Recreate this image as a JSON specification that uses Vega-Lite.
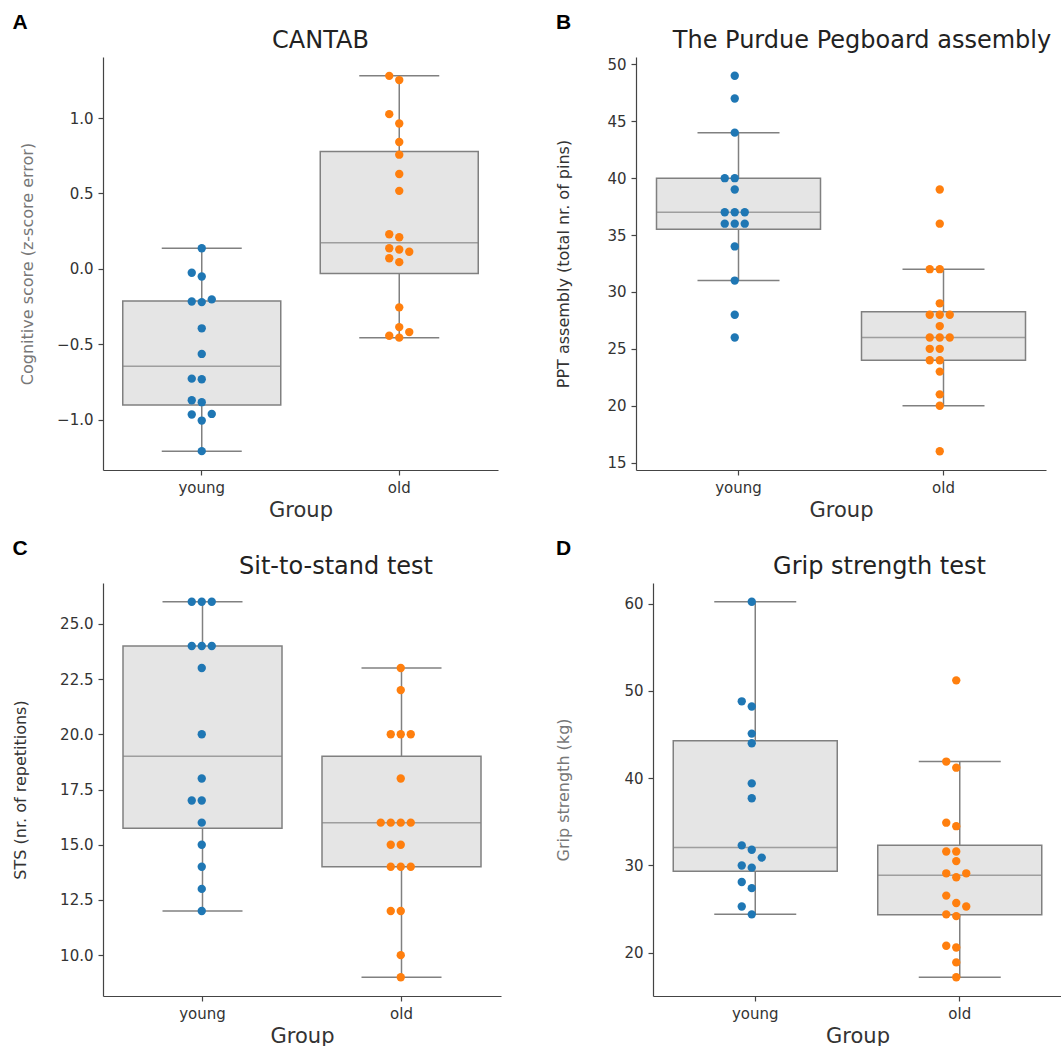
{
  "$schema": "https://vega.github.io/schema/vega-lite/v6.json",
  "padding": {"left": 12, "top": 12, "right": 0, "bottom": 0},
  "background": "white",
  "datasets": {
    "cantab": [
      {"group": "young", "value": 0.136}, {"group": "young", "value": -0.026}, {"group": "young", "value": -0.051},
      {"group": "young", "value": -0.203}, {"group": "young", "value": -0.217}, {"group": "young", "value": -0.221},
      {"group": "young", "value": -0.395}, {"group": "young", "value": -0.565}, {"group": "young", "value": -0.729},
      {"group": "young", "value": -0.733}, {"group": "young", "value": -0.872}, {"group": "young", "value": -0.885},
      {"group": "young", "value": -0.963}, {"group": "young", "value": -0.967}, {"group": "young", "value": -1.007},
      {"group": "young", "value": -1.21},
      {"group": "old", "value": 1.28}, {"group": "old", "value": 1.252}, {"group": "old", "value": 1.026},
      {"group": "old", "value": 0.964}, {"group": "old", "value": 0.841}, {"group": "old", "value": 0.757},
      {"group": "old", "value": 0.629}, {"group": "old", "value": 0.517}, {"group": "old", "value": 0.229},
      {"group": "old", "value": 0.209}, {"group": "old", "value": 0.136}, {"group": "old", "value": 0.128},
      {"group": "old", "value": 0.113}, {"group": "old", "value": 0.07}, {"group": "old", "value": 0.044},
      {"group": "old", "value": -0.256}, {"group": "old", "value": -0.387}, {"group": "old", "value": -0.42},
      {"group": "old", "value": -0.444}, {"group": "old", "value": -0.457}
    ],
    "ppt": [
      {"group": "young", "value": 49}, {"group": "young", "value": 47}, {"group": "young", "value": 44},
      {"group": "young", "value": 40}, {"group": "young", "value": 40}, {"group": "young", "value": 39},
      {"group": "young", "value": 37}, {"group": "young", "value": 37}, {"group": "young", "value": 37},
      {"group": "young", "value": 36}, {"group": "young", "value": 36}, {"group": "young", "value": 36},
      {"group": "young", "value": 34}, {"group": "young", "value": 31}, {"group": "young", "value": 28},
      {"group": "young", "value": 26},
      {"group": "old", "value": 39}, {"group": "old", "value": 36}, {"group": "old", "value": 32},
      {"group": "old", "value": 32}, {"group": "old", "value": 29}, {"group": "old", "value": 28},
      {"group": "old", "value": 28}, {"group": "old", "value": 28}, {"group": "old", "value": 27},
      {"group": "old", "value": 26}, {"group": "old", "value": 26}, {"group": "old", "value": 26},
      {"group": "old", "value": 25}, {"group": "old", "value": 25}, {"group": "old", "value": 24},
      {"group": "old", "value": 24}, {"group": "old", "value": 23}, {"group": "old", "value": 21},
      {"group": "old", "value": 20}, {"group": "old", "value": 16}
    ],
    "sts": [
      {"group": "young", "value": 26}, {"group": "young", "value": 26}, {"group": "young", "value": 26},
      {"group": "young", "value": 24}, {"group": "young", "value": 24}, {"group": "young", "value": 24},
      {"group": "young", "value": 23}, {"group": "young", "value": 20}, {"group": "young", "value": 18},
      {"group": "young", "value": 17}, {"group": "young", "value": 17}, {"group": "young", "value": 16},
      {"group": "young", "value": 15}, {"group": "young", "value": 14}, {"group": "young", "value": 13},
      {"group": "young", "value": 12},
      {"group": "old", "value": 23}, {"group": "old", "value": 22}, {"group": "old", "value": 20},
      {"group": "old", "value": 20}, {"group": "old", "value": 20}, {"group": "old", "value": 18},
      {"group": "old", "value": 16}, {"group": "old", "value": 16}, {"group": "old", "value": 16},
      {"group": "old", "value": 16}, {"group": "old", "value": 15}, {"group": "old", "value": 15},
      {"group": "old", "value": 14}, {"group": "old", "value": 14}, {"group": "old", "value": 14},
      {"group": "old", "value": 12}, {"group": "old", "value": 12}, {"group": "old", "value": 10},
      {"group": "old", "value": 9}
    ],
    "grip": [
      {"group": "young", "value": 60.2}, {"group": "young", "value": 48.8}, {"group": "young", "value": 48.2},
      {"group": "young", "value": 45.1}, {"group": "young", "value": 44.0}, {"group": "young", "value": 39.4},
      {"group": "young", "value": 37.7}, {"group": "young", "value": 32.3}, {"group": "young", "value": 31.8},
      {"group": "young", "value": 30.9}, {"group": "young", "value": 30.0}, {"group": "young", "value": 29.75},
      {"group": "young", "value": 28.1}, {"group": "young", "value": 27.4}, {"group": "young", "value": 25.3},
      {"group": "young", "value": 24.4},
      {"group": "old", "value": 51.2}, {"group": "old", "value": 41.9}, {"group": "old", "value": 41.2},
      {"group": "old", "value": 34.9}, {"group": "old", "value": 34.5}, {"group": "old", "value": 31.6},
      {"group": "old", "value": 31.6}, {"group": "old", "value": 30.5}, {"group": "old", "value": 29.1},
      {"group": "old", "value": 29.1}, {"group": "old", "value": 28.65}, {"group": "old", "value": 26.55},
      {"group": "old", "value": 25.7}, {"group": "old", "value": 25.3}, {"group": "old", "value": 24.4},
      {"group": "old", "value": 24.2}, {"group": "old", "value": 20.8}, {"group": "old", "value": 20.6},
      {"group": "old", "value": 18.9}, {"group": "old", "value": 17.2}
    ]
  },
  "columns": 2,
  "align": "none",
  "spacing": {"row": 18, "column": 54},
  "concat": [
    {
      "title": {"text": "A", "anchor": "start", "font": "Liberation Sans", "fontSize": 21, "fontWeight": "bold", "color": "#000", "offset": -4, "dx": -7},
      "vconcat": [
        {
          "width": 395, "height": 413,
          "title": {"text": "CANTAB", "dx": 20},
          "data": {"name": "cantab"},
          "layer": [
            {
              "mark": {"type": "boxplot", "extent": 1.5, "size": 158, "outliers": false,
                "box": {"color": "#e5e5e5", "stroke": "#808080", "strokeWidth": 1.5},
                "median": {"color": "#808080", "thickness": 1.5},
                "rule": {"color": "#808080", "strokeWidth": 1.5},
                "ticks": {"color": "#808080", "thickness": 1.5, "size": 80}},
              "encoding": {
                "x": {"field": "group", "type": "nominal", "sort": null, "scale": {"domain": ["young", "old"], "paddingInner": 0, "paddingOuter": 0}, "axis": {"title": "Group", "labelAngle": 0, "bandPosition": 0.5}},
                "y": {"field": "value", "type": "quantitative", "scale": {"domain": [-1.335, 1.405], "nice": false, "zero": false}, "axis": {"title": "Cognitive score (z-score error)", "values": [-1, -0.5, 0, 0.5, 1], "format": ".1f", "titleColor": "#777", "titlePadding": 21}}
              }
            },
            {
              "transform": [
                {"window": [{"op": "lag", "field": "value", "as": "prev"}], "groupby": ["group"], "sort": [{"field": "value", "order": "ascending"}]},
                {"calculate": "datum.prev == null || datum.value - datum.prev > 0.064 ? 1 : 0", "as": "nc"},
                {"window": [{"op": "sum", "field": "nc", "as": "cid"}], "groupby": ["group"], "sort": [{"field": "value", "order": "ascending"}], "frame": [null, 0]},
                {"window": [{"op": "row_number", "as": "rk"}], "groupby": ["group", "cid"], "sort": [{"field": "value", "order": "ascending"}]},
                {"calculate": "[0, -1, 1][(datum.rk - 1) % 3]", "as": "off"}
              ],
              "mark": {"type": "circle", "size": 70, "opacity": 1},
              "encoding": {
                "x": {"field": "group", "type": "nominal", "sort": null},
                "xOffset": {"field": "off", "type": "quantitative", "scale": {"domain": [-5, 5], "range": [48.75, 148.75]}},
                "y": {"field": "value", "type": "quantitative"},
                "color": {"field": "group", "type": "nominal", "scale": {"domain": ["young", "old"], "range": ["#1f77b4", "#ff7f0e"]}, "legend": null}
              }
            }
          ]
        }
      ]
    },
    {
      "title": {"text": "B", "anchor": "start", "font": "Liberation Sans", "fontSize": 21, "fontWeight": "bold", "color": "#000", "offset": -4},
      "vconcat": [
        {
          "width": 410, "height": 413,
          "title": {"text": "The Purdue Pegboard assembly", "dx": 21},
          "data": {"name": "ppt"},
          "layer": [
            {
              "mark": {"type": "boxplot", "extent": 1.5, "size": 164, "outliers": false,
                "box": {"color": "#e5e5e5", "stroke": "#808080", "strokeWidth": 1.5},
                "median": {"color": "#808080", "thickness": 1.5},
                "rule": {"color": "#808080", "strokeWidth": 1.5},
                "ticks": {"color": "#808080", "thickness": 1.5, "size": 82}},
              "encoding": {
                "x": {"field": "group", "type": "nominal", "sort": null, "scale": {"domain": ["young", "old"], "paddingInner": 0, "paddingOuter": 0}, "axis": {"title": "Group", "labelAngle": 0, "bandPosition": 0.5}},
                "y": {"field": "value", "type": "quantitative", "scale": {"domain": [14.35, 50.65], "nice": false, "zero": false}, "axis": {"title": "PPT assembly (total nr. of pins)", "values": [15, 20, 25, 30, 35, 40, 45, 50], "titlePadding": 35}}
              }
            },
            {
              "transform": [
                {"window": [{"op": "lag", "field": "value", "as": "prev"}], "groupby": ["group"], "sort": [{"field": "value", "order": "ascending"}]},
                {"calculate": "datum.prev == null || datum.value - datum.prev > 0.5 ? 1 : 0", "as": "nc"},
                {"window": [{"op": "sum", "field": "nc", "as": "cid"}], "groupby": ["group"], "sort": [{"field": "value", "order": "ascending"}], "frame": [null, 0]},
                {"window": [{"op": "row_number", "as": "rk"}], "groupby": ["group", "cid"], "sort": [{"field": "value", "order": "ascending"}]},
                {"calculate": "datum.rk == 1 ? 0 : (datum.rk % 2 == 0 ? -datum.rk / 2 : (datum.rk - 1) / 2)", "as": "off"}
              ],
              "mark": {"type": "circle", "size": 70, "opacity": 1},
              "encoding": {
                "x": {"field": "group", "type": "nominal", "sort": null},
                "xOffset": {"field": "off", "type": "quantitative", "scale": {"domain": [-5, 5], "range": [52.5, 152.5]}},
                "y": {"field": "value", "type": "quantitative"},
                "color": {"field": "group", "type": "nominal", "scale": {"domain": ["young", "old"], "range": ["#1f77b4", "#ff7f0e"]}, "legend": null}
              }
            }
          ]
        }
      ]
    },
    {
      "title": {"text": "C", "anchor": "start", "font": "Liberation Sans", "fontSize": 21, "fontWeight": "bold", "color": "#000", "offset": -4},
      "vconcat": [
        {
          "width": 398, "height": 413,
          "title": {"text": "Sit-to-stand test", "dx": 34},
          "data": {"name": "sts"},
          "layer": [
            {
              "mark": {"type": "boxplot", "extent": 1.5, "size": 159, "outliers": false,
                "box": {"color": "#e5e5e5", "stroke": "#808080", "strokeWidth": 1.5},
                "median": {"color": "#808080", "thickness": 1.5},
                "rule": {"color": "#808080", "strokeWidth": 1.5},
                "ticks": {"color": "#808080", "thickness": 1.5, "size": 80}},
              "encoding": {
                "x": {"field": "group", "type": "nominal", "sort": null, "scale": {"domain": ["young", "old"], "paddingInner": 0, "paddingOuter": 0}, "axis": {"title": "Group", "labelAngle": 0, "bandPosition": 0.5}},
                "y": {"field": "value", "type": "quantitative", "scale": {"domain": [8.15, 26.85], "nice": false, "zero": false}, "axis": {"title": "STS (nr. of repetitions)", "values": [10, 12.5, 15, 17.5, 20, 22.5, 25], "format": ".1f", "titlePadding": 31}}
              }
            },
            {
              "transform": [
                {"window": [{"op": "lag", "field": "value", "as": "prev"}], "groupby": ["group"], "sort": [{"field": "value", "order": "ascending"}]},
                {"calculate": "datum.prev == null || datum.value - datum.prev > 0.5 ? 1 : 0", "as": "nc"},
                {"window": [{"op": "sum", "field": "nc", "as": "cid"}], "groupby": ["group"], "sort": [{"field": "value", "order": "ascending"}], "frame": [null, 0]},
                {"window": [{"op": "row_number", "as": "rk"}], "groupby": ["group", "cid"], "sort": [{"field": "value", "order": "ascending"}]},
                {"calculate": "datum.rk == 1 ? 0 : (datum.rk % 2 == 0 ? -datum.rk / 2 : (datum.rk - 1) / 2)", "as": "off"}
              ],
              "mark": {"type": "circle", "size": 70, "opacity": 1},
              "encoding": {
                "x": {"field": "group", "type": "nominal", "sort": null},
                "xOffset": {"field": "off", "type": "quantitative", "scale": {"domain": [-5, 5], "range": [49.5, 149.5]}},
                "y": {"field": "value", "type": "quantitative"},
                "color": {"field": "group", "type": "nominal", "scale": {"domain": ["young", "old"], "range": ["#1f77b4", "#ff7f0e"]}, "legend": null}
              }
            }
          ]
        }
      ]
    },
    {
      "title": {"text": "D", "anchor": "start", "font": "Liberation Sans", "fontSize": 21, "fontWeight": "bold", "color": "#000", "offset": -4},
      "vconcat": [
        {
          "width": 409, "height": 413,
          "title": {"text": "Grip strength test", "dx": 22},
          "data": {"name": "grip"},
          "layer": [
            {
              "mark": {"type": "boxplot", "extent": 1.5, "size": 164, "outliers": false,
                "box": {"color": "#e5e5e5", "stroke": "#808080", "strokeWidth": 1.5},
                "median": {"color": "#808080", "thickness": 1.5},
                "rule": {"color": "#808080", "strokeWidth": 1.5},
                "ticks": {"color": "#808080", "thickness": 1.5, "size": 82}},
              "encoding": {
                "x": {"field": "group", "type": "nominal", "sort": null, "scale": {"domain": ["young", "old"], "paddingInner": 0, "paddingOuter": 0}, "axis": {"title": "Group", "labelAngle": 0, "bandPosition": 0.5}},
                "y": {"field": "value", "type": "quantitative", "scale": {"domain": [15.05, 62.35], "nice": false, "zero": false}, "axis": {"title": "Grip strength (kg)", "values": [20, 30, 40, 50, 60], "titleColor": "#777", "titlePadding": 52}}
              }
            },
            {
              "transform": [
                {"window": [{"op": "lag", "field": "value", "as": "prev"}], "groupby": ["group"], "sort": [{"field": "value", "order": "ascending"}]},
                {"calculate": "datum.prev == null || datum.value - datum.prev > 1.0 ? 1 : 0", "as": "nc"},
                {"window": [{"op": "sum", "field": "nc", "as": "cid"}], "groupby": ["group"], "sort": [{"field": "value", "order": "ascending"}], "frame": [null, 0]},
                {"window": [{"op": "row_number", "as": "rk"}], "groupby": ["group", "cid"], "sort": [{"field": "value", "order": "ascending"}]},
                {"calculate": "[0, -1, 1][(datum.rk - 1) % 3]", "as": "off"}
              ],
              "mark": {"type": "circle", "size": 70, "opacity": 1},
              "encoding": {
                "x": {"field": "group", "type": "nominal", "sort": null},
                "xOffset": {"field": "off", "type": "quantitative", "scale": {"domain": [-5, 5], "range": [52.25, 152.25]}},
                "y": {"field": "value", "type": "quantitative"},
                "color": {"field": "group", "type": "nominal", "scale": {"domain": ["young", "old"], "range": ["#1f77b4", "#ff7f0e"]}, "legend": null}
              }
            }
          ]
        }
      ]
    }
  ],
  "config": {
    "view": {"stroke": null},
    "title": {"font": "DejaVu Sans", "fontSize": 24, "fontWeight": "normal", "color": "#222", "offset": 4},
    "axis": {"grid": false, "domainColor": "#444", "domainWidth": 1.2, "tickColor": "#444", "tickWidth": 1.2, "tickSize": 5,
      "labelFont": "DejaVu Sans", "labelFontSize": 15, "labelColor": "#333", "labelPadding": 5,
      "titleFont": "DejaVu Sans", "titleFontWeight": "normal", "titleColor": "#333"},
    "axisX": {"titleFontSize": 21, "titlePadding": 4},
    "axisY": {"titleFontSize": 16}
  }
}
